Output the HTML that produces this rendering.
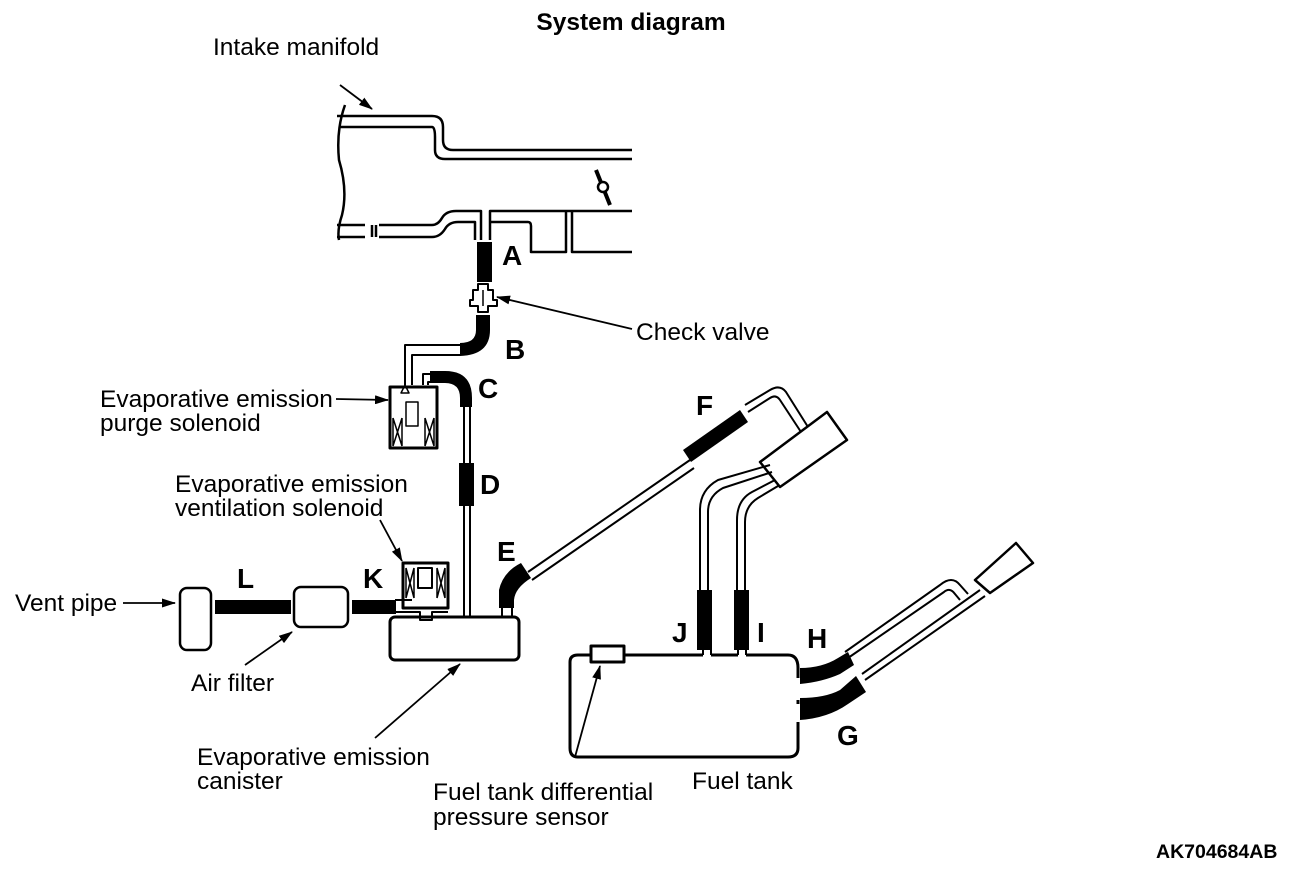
<!DOCTYPE html>
<html><head><style>
html,body{margin:0;padding:0;background:#fff;}
svg{display:block;}
text{font-family:"Liberation Sans",Arial,sans-serif;fill:#000;}
</style></head><body>
<svg width="1312" height="876" viewBox="0 0 1312 876" xmlns="http://www.w3.org/2000/svg">
<defs>
<marker id="ah" markerWidth="14" markerHeight="9" refX="13" refY="4.5" orient="auto" markerUnits="userSpaceOnUse">
<path d="M0,0 L14,4.5 L0,9 Z" fill="#000"/></marker>
</defs>
<g fill="none" stroke="#000" stroke-width="2.5" stroke-linejoin="round">
<path d="M345,105 Q336,130 339,160 Q348,190 342,215 Q337,230 339,240"/>
<path d="M337,116 H432 Q443,116 443,127 V140 Q443,150 453,150 H632"/>
<path d="M340,127 H432 Q435,127 435,137 V150 Q435,159 445,159 H632"/>
<path d="M337,225 H365 M372,225 V237 M376,225 V237 M337,237 H365 M379,225 H432 Q438,225 442,218 Q446,211 456,211 H481 V240"/>
<path d="M379,237 H432 Q440,237 445,229 Q449,222 458,222 H475 V240"/>
<path d="M490,240 V211 H632 M490,222 H528 Q531,222 531,226 V252 H566 V211 M572,211 V252 H632"/>
<path d="M596,170 L610,205" stroke-width="4"/>
<circle cx="603" cy="187" r="5" fill="#fff"/>
<path d="M478,284 H488 V290 H493 V300 H497 V306 H488 V312 H478 V306 H470 V300 H473 V290 H478 Z" stroke-width="2"/>
<path d="M483,290 V306" stroke-width="1.5"/>
<path d="M460,345 H405 V385 M460,355 H412 V385" stroke-width="2"/>
<path d="M435,374 H423 V385 M435,382 H428 V385" stroke-width="2"/>
<rect x="390" y="387" width="47" height="61" stroke-width="3"/>
<path d="M405,385 L401,393 H409 Z" stroke-width="1.5"/>
<rect x="406" y="402" width="12" height="24" stroke-width="1.5"/>
<path d="M393,418 V446 M402,418 V446 M393,418 L402,446 M402,418 L393,446 M425,418 V446 M434,418 V446 M425,418 L434,446 M434,418 L425,446" stroke-width="1.5"/>
<path d="M464,405 V617 M470,405 V617" stroke-width="2"/>
<rect x="403" y="563" width="45" height="45" stroke-width="3"/>
<rect x="418" y="568" width="14" height="20" stroke-width="2"/>
<path d="M406,568 V598 M414,568 V598 M406,568 L414,598 M414,568 L406,598 M437,568 V598 M445,568 V598 M437,568 L445,598 M445,568 L437,598" stroke-width="1.5"/>
<path d="M395,600 H412 M395,612 H420 V620 H432 V612 H448" stroke-width="2"/>
<rect x="390" y="617" width="129" height="43" rx="5" stroke-width="3"/>
<path d="M502,617 V605 M512,617 V605" stroke-width="2"/>
<rect x="180" y="588" width="31" height="62" rx="7" stroke-width="2.5"/>
<rect x="294" y="587" width="54" height="40" rx="7" stroke-width="2.5"/>
<path d="M528,572 L690,460 M532,580 L694,468" stroke-width="2"/>
<path d="M745,405 L770,390 Q780,384 786,392 L808,427 M748,412 L770,398 Q776,394 780,400 L801,432" stroke-width="2"/>
<path d="M760,462 L827,412 L847,440 L780,487 Z" stroke-width="2.5"/>
<path d="M700,595 V510 Q700,490 718,480 L770,465 M708,595 V512 Q708,496 723,488 L772,472 M737,595 V520 Q737,500 752,492 L775,480 M745,595 V522 Q745,506 758,498 L778,486" stroke-width="2"/>
<path d="M625,655 H703 M711,655 H738 M746,655 H788 Q798,655 798,668 V678 M798,700 V704 M798,722 V748 Q798,757 788,757 H578 Q570,757 570,748 V662 Q570,655 578,655 H590" stroke-width="3"/>
<path d="M703,655 V650 M711,655 V650 M738,655 V650 M746,655 V650" stroke-width="2"/>
<rect x="591" y="646" width="33" height="16" stroke-width="3"/>
<path d="M845,652 L940,585 Q952,575 960,585 L968,594 M848,658 L944,592 Q950,587 955,594 L960,600" stroke-width="2"/>
<path d="M865,680 L985,596 M862,674 L980,590" stroke-width="2"/>
<path d="M975,580 L1016,543 L1033,563 L990,593 Z" stroke-width="2.5"/>
</g>
<g fill="#000">
<rect x="477" y="242" width="15" height="40"/>
<path d="M476,315 H490 V330 Q490,355 460,356 V343 Q476,343 476,330 Z"/>
<path d="M430,371 H445 Q472,371 472,398 V407 H460 V398 Q460,383 445,383 H430 Z"/>
<rect x="459" y="463" width="15" height="43"/>
<rect x="215" y="600" width="76" height="14"/>
<rect x="352" y="600" width="44" height="14"/>
<path d="M499,608 V590 Q503,572 521,563 L531,578 Q515,588 514,600 V608 Z"/>
<path d="M683,450 L740,410 L748,422 L691,462 Z"/>
<rect x="697" y="590" width="15" height="60"/>
<rect x="734" y="590" width="15" height="60"/>
<path d="M800,668 Q822,668 838,658 L848,652 L854,665 L840,674 Q822,682 800,684 Z"/>
<path d="M800,698 Q825,698 840,690 L856,676 L866,692 L848,704 Q828,718 800,720 Z"/>
</g>
<g stroke="#000" stroke-width="1.8" fill="none">
<line x1="340" y1="85" x2="372" y2="109" marker-end="url(#ah)"/>
<line x1="632" y1="329" x2="497" y2="297" marker-end="url(#ah)"/>
<line x1="336" y1="399" x2="388" y2="400" marker-end="url(#ah)"/>
<line x1="380" y1="520" x2="402" y2="561" marker-end="url(#ah)"/>
<line x1="123" y1="603" x2="175" y2="603" marker-end="url(#ah)"/>
<line x1="245" y1="665" x2="292" y2="632" marker-end="url(#ah)"/>
<line x1="375" y1="738" x2="460" y2="664" marker-end="url(#ah)"/>
<line x1="575" y1="757" x2="600" y2="666" marker-end="url(#ah)"/>
</g>
<g font-size="24.5">
<text x="631" y="30" text-anchor="middle" font-weight="bold">System diagram</text>
<text x="213" y="55">Intake manifold</text>
<text x="636" y="340">Check valve</text>
<text x="100" y="407">Evaporative emission</text>
<text x="100" y="431">purge solenoid</text>
<text x="175" y="492">Evaporative emission</text>
<text x="175" y="516">ventilation solenoid</text>
<text x="15" y="611">Vent pipe</text>
<text x="191" y="691">Air filter</text>
<text x="197" y="765">Evaporative emission</text>
<text x="197" y="789">canister</text>
<text x="433" y="800">Fuel tank differential</text>
<text x="433" y="825">pressure sensor</text>
<text x="692" y="789">Fuel tank</text>
</g>
<g font-size="28" font-weight="bold">
<text x="502" y="265">A</text>
<text x="505" y="359">B</text>
<text x="478" y="398">C</text>
<text x="480" y="494">D</text>
<text x="497" y="561">E</text>
<text x="696" y="415">F</text>
<text x="837" y="745">G</text>
<text x="807" y="648">H</text>
<text x="757" y="642">I</text>
<text x="672" y="642">J</text>
<text x="363" y="588">K</text>
<text x="237" y="588">L</text>
</g>
<text x="1156" y="858" font-size="19.5" font-weight="bold">AK704684AB</text>
</svg>
</body></html>
